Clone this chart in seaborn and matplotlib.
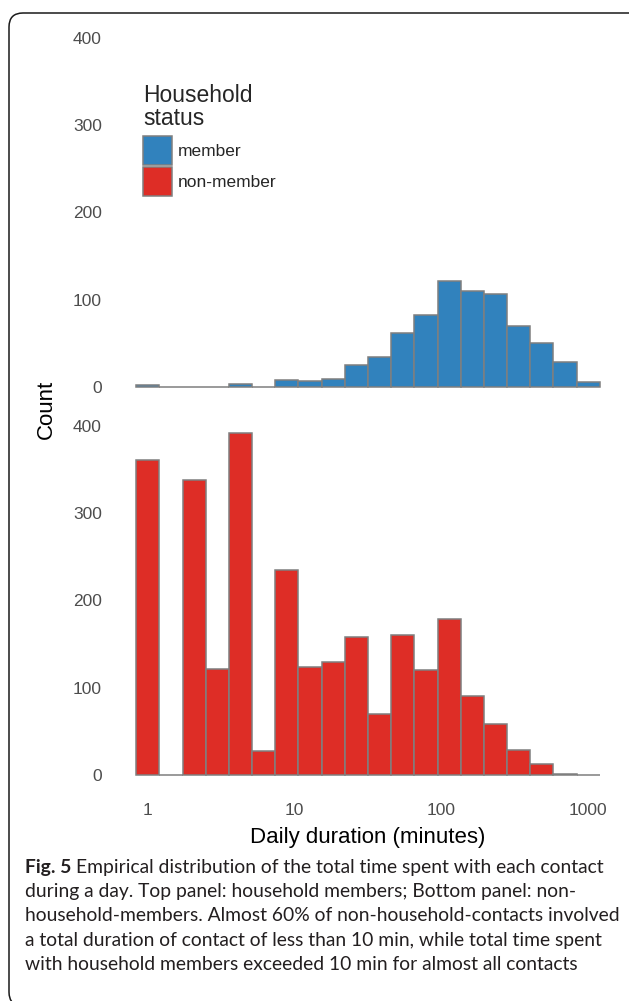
import numpy as np
import pandas as pd
import matplotlib
matplotlib.use("Agg")
import matplotlib.pyplot as plt
import seaborn as sns
from matplotlib.patches import Patch, FancyBboxPatch
from matplotlib.transforms import IdentityTransform
from matplotlib.ticker import NullLocator

# ---------------- data ----------------
duration_mid = [1, 1.44, 2.07, 2.98, 4.28, 6.16, 8.85, 12.7, 18.3, 26.4,
                37.9, 54.5, 78.4, 113, 162, 233, 336, 483, 694, 998]
member_counts = [2, 0, 0, 0, 3, 0, 8, 7, 9, 25,
                 34, 62, 82, 121, 110, 107, 70, 50, 29, 6]
nonmember_counts = [361, 0, 338, 121, 392, 27, 235, 124, 129, 158,
                    70, 160, 120, 179, 90, 58, 28, 12, 1, 0]
status_labels = ["member", "non-member"]
x_ticks = [1, 10, 100, 1000]
x_tick_labels = ["1", "10", "100", "1000"]
y_ticks = [0, 100, 200, 300, 400]
y_tick_labels = ["0", "100", "200", "300", "400"]
caption_bold = "Fig. 5"
caption_lines = [
    "Empirical distribution of the total time spent with each contact",
    "during a day. Top panel: household members; Bottom panel: non-",
    "household-members. Almost 60% of non-household-contacts involved",
    "a total duration of contact of less than 10 min, while total time spent",
    "with household members exceeded 10 min for almost all contacts",
]

# ---------------- style ----------------
sns.set_style("white")
plt.rcParams['font.family'] = ['Liberation Sans', 'DejaVu Sans']

BLUE = "#3182bd"
RED = "#de2d26"
EDGE = "#7f7f7f"
TICK_C = "#4d4d4d"

W, H = 629, 1001
fig = plt.figure(figsize=(W / 100, H / 100), dpi=100)

def fx(px):
    return px / W

def fy(py):
    return 1 - py / H

ax_left, ax_right = 113, 623
ax_top = fig.add_axes([fx(ax_left), fy(404), (ax_right - ax_left) / W, 377 / H])
ax_bot = fig.add_axes([fx(ax_left), fy(792), (ax_right - ax_left) / W, 377 / H])

df = pd.DataFrame({"duration": duration_mid,
                   "member": member_counts,
                   "nonmember": nonmember_counts})

binrange = (-0.0786, 3.0786)
for ax, col, color in [(ax_top, "member", BLUE), (ax_bot, "nonmember", RED)]:
    sns.histplot(data=df, x="duration", weights=col, bins=20, binrange=binrange,
                 log_scale=True, color=color, edgecolor=EDGE, linewidth=1.1,
                 alpha=1, ax=ax)
    ax.set_xlim(10 ** -0.237, 10 ** 3.237)
    ax.set_ylim(-19.65, 412.65)
    ax.set_xticks(x_ticks)
    ax.set_xticklabels(x_tick_labels)
    ax.xaxis.set_minor_locator(NullLocator())
    ax.set_yticks(y_ticks)
    ax.set_yticklabels(y_tick_labels)
    ax.tick_params(length=0, pad=8, labelsize=12.5, labelcolor=TICK_C)
    ax.set_xlabel("")
    ax.set_ylabel("")
    ax.grid(False)
    for s in ax.spines.values():
        s.set_visible(False)
    ax.set_facecolor("none")

ax_top.tick_params(labelbottom=False)

# axis titles
fig.text(fx(46), fy(409.5), "Count", rotation=90, ha="center", va="center",
         fontsize=16, color="black")
fig.text(fx(368), fy(837), "Daily duration (minutes)", ha="center", va="center",
         fontsize=16, color="black")

# legend
handles = [Patch(facecolor=BLUE, edgecolor=EDGE, linewidth=1.1),
           Patch(facecolor=RED, edgecolor=EDGE, linewidth=1.1)]
leg = ax_top.legend(handles, status_labels, title="Household\nstatus",
                    loc="upper left", bbox_to_anchor=(fx(143), fy(84)),
                    bbox_transform=fig.transFigure, frameon=False,
                    fontsize=12.5, title_fontsize=16.5, borderpad=0,
                    borderaxespad=0,
                    handlelength=1.68, handleheight=2.2, labelspacing=0.12,
                    handletextpad=0.35, alignment="left")
leg.get_title().set_linespacing(1.0)
leg._legend_box.sep = 4.5

# border of the figure box
border = FancyBboxPatch((9, -5), 720, 1001 - 13 + 5,
                        boxstyle="round,pad=0,rounding_size=14",
                        transform=IdentityTransform(), fill=False,
                        linewidth=1.1, edgecolor="#1a1a1a")
fig.add_artist(border)

# caption
renderer = fig.canvas.get_renderer()
cap_font = ['Lato', 'DejaVu Sans']
probe = fig.text(0, 0, caption_lines[2], fontsize=12, family=cap_font)
wprobe = probe.get_window_extent(renderer).width
probe.remove()
cap_fs = 12 * 593 / wprobe
cap_color = "#231f20"
x0 = 25
base0 = 873
step = 24.2
tb = fig.text(fx(x0), fy(base0), caption_bold, fontsize=cap_fs, family=cap_font,
              fontweight="bold", color=cap_color, va="baseline", ha="left")
wb = tb.get_window_extent(renderer).width
space = 0.26 * cap_fs * 100 / 72
fig.text(fx(x0 + wb + space), fy(base0), caption_lines[0], fontsize=cap_fs,
         family=cap_font, color=cap_color, va="baseline", ha="left")
for i, line in enumerate(caption_lines[1:], start=1):
    fig.text(fx(x0), fy(base0 + i * step), line, fontsize=cap_fs,
             family=cap_font, color=cap_color, va="baseline", ha="left")

fig.savefig("out.png", dpi=100, facecolor="white")
